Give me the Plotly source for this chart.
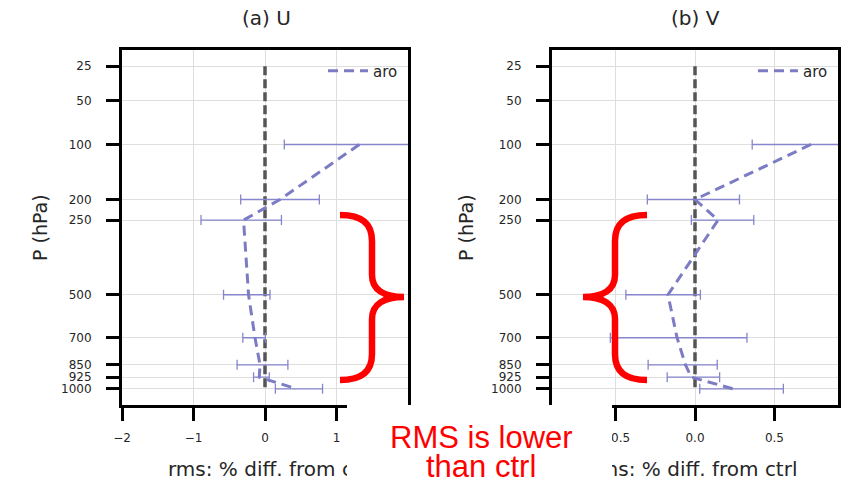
import plotly.graph_objects as go

# Pressure levels (hPa) and per-level RMS % difference from ctrl, with
# lower/upper spread of the error bars
levels = [100, 200, 250, 500, 700, 850, 925, 1000]

u_diff = [1.32, 0.21, -0.30, -0.23, -0.14, -0.07, -0.08, 0.44]
u_err_minus = [1.05, 0.55, 0.595, 0.35, 0.17, 0.32, 0.08, 0.295]
u_err_plus = [1.05, 0.55, 0.53, 0.30, 0.145, 0.39, 0.14, 0.365]

v_diff = [0.73, 0.00, 0.145, -0.17, -0.113, -0.06, -0.023, 0.24]
v_err_minus = [0.37, 0.30, 0.168, 0.265, 0.42, 0.235, 0.152, 0.21]
v_err_plus = [0.37, 0.28, 0.225, 0.204, 0.44, 0.20, 0.178, 0.316]

tick_levels = [25, 50, 100, 200, 250, 500, 700, 850, 925, 1000]
tick_labels = [str(p) for p in tick_levels]

x_ticks_u = [-2, -1, 0, 1]
x_ticks_v = [-0.5, 0.0, 0.5]

# the vertical axis is linear in p**(1/3)
def pscale(p):
    return p ** (1.0 / 3.0)

W, H = 846, 488
def px(x):
    return x / W
def py(y):
    return 1 - y / H

LINE_COLOR = "#7c7cc4"
ERR_COLOR = "#8686cc"
FONT = "DejaVu Sans"
TXT = "#262626"

fig = go.Figure()

panels = [
    ("x", "y", u_diff, u_err_minus, u_err_plus, "legend"),
    ("x2", "y2", v_diff, v_err_minus, v_err_plus, "legend2"),
]
for xa, ya, d, em, ep, lg in panels:
    # zero reference line
    fig.add_trace(go.Scatter(
        x=[0, 0], y=[pscale(tick_levels[0]), pscale(tick_levels[-1])],
        mode="lines", line=dict(color="#555555", width=3.5, dash="9px,4px"),
        showlegend=False, xaxis=xa, yaxis=ya, hoverinfo="skip"))
    fig.add_trace(go.Scatter(
        x=d, y=[pscale(p) for p in levels], mode="lines", name="aro",
        line=dict(color=LINE_COLOR, width=3, dash="10px,6px"),
        error_x=dict(type="data", symmetric=False, array=ep, arrayminus=em,
                     color=ERR_COLOR, thickness=1.3, width=5),
        xaxis=xa, yaxis=ya, legend=lg))

yr = [10.354, 2.57]
common_axis = dict(showline=True, linecolor="black", linewidth=3, mirror=True,
                   ticks="outside", ticklen=13, tickwidth=3, tickcolor="black",
                   showgrid=True, gridcolor="#dedede", gridwidth=1,
                   zeroline=False, tickfont=dict(family=FONT, size=12, color=TXT))

fig.update_layout(
    width=W, height=H, margin=dict(l=0, r=0, t=0, b=0, autoexpand=False),
    paper_bgcolor="white", plot_bgcolor="white",
    showlegend=True,
    xaxis=dict(domain=[px(122), px(408)], range=[-2, 2], tickvals=x_ticks_u,
               anchor="y", ticklabelstandoff=7, **common_axis),
    xaxis2=dict(domain=[px(552), px(838)], range=[-0.9, 0.9], tickvals=x_ticks_v,
                tickformat=".1f", anchor="y2", ticklabelstandoff=7, **common_axis),
    yaxis=dict(domain=[py(405), py(50)], range=yr, tickvals=[pscale(p) for p in tick_levels],
               ticktext=tick_labels, anchor="x", ticklabelstandoff=12, **common_axis),
    yaxis2=dict(domain=[py(405), py(50)], range=yr, tickvals=[pscale(p) for p in tick_levels],
                ticktext=tick_labels, anchor="x2", ticklabelstandoff=12, **common_axis),
    legend=dict(x=px(323), y=py(71), xanchor="left", yanchor="middle", itemwidth=40,
                bgcolor="rgba(0,0,0,0)", font=dict(family=FONT, size=15, color=TXT)),
    legend2=dict(x=px(753), y=py(71), xanchor="left", yanchor="middle", itemwidth=40,
                 bgcolor="rgba(0,0,0,0)", font=dict(family=FONT, size=15, color=TXT)),
)

annotations = []
# panel titles
for text, cx in [("(a) U", 266), ("(b) V", 695)]:
    annotations.append(dict(text=text, x=px(cx), y=py(18), xref="paper", yref="paper",
                            showarrow=False, xanchor="center", yanchor="middle",
                            font=dict(family=FONT, size=20, color=TXT)))
# axis titles
for cx in [271, 694]:
    annotations.append(dict(text="rms: % diff. from ctrl", x=px(cx), y=py(469),
                            xref="paper", yref="paper", showarrow=False,
                            xanchor="center", yanchor="middle",
                            font=dict(family=FONT, size=20, color=TXT)))
for cx in [40, 466]:
    annotations.append(dict(text="P (hPa)", x=px(cx), y=py(228), xref="paper", yref="paper",
                            showarrow=False, textangle=-90, xanchor="center", yanchor="middle",
                            font=dict(family=FONT, size=19, color=TXT)))
# white label box with the red note
annotations.append(dict(text="\u00a0", x=px(347), y=py(405), xref="paper", yref="paper",
                        showarrow=False, xanchor="left", yanchor="top",
                        width=265, height=90, bgcolor="white", borderpad=0, borderwidth=0))
for text, cy in [("RMS is lower", 437), ("than ctrl", 466)]:
    annotations.append(dict(text=text, x=px(481), y=py(cy), xref="paper", yref="paper",
                            showarrow=False, xanchor="center", yanchor="middle",
                            font=dict(family="Liberation Sans", size=31, color="red")))
fig.update_layout(annotations=annotations)

# curly braces marking the lower troposphere
def brace(x_end, x_mid, x_tip, y_top, y_tip, y_bot):
    s = 1 if x_tip > x_mid else -1
    P = lambda x, y: f"{px(x)},{py(y)}"
    pts = [
        "M" + P(x_end, y_top),
        "C" + " ".join([P(x_end + s * 20, y_top), P(x_mid, y_top + 7), P(x_mid, y_top + 26)]),
        "L" + P(x_mid, y_tip - 22),
        "C" + " ".join([P(x_mid, y_tip - 7), P(x_mid + s * 12, y_tip), P(x_tip, y_tip)]),
        "C" + " ".join([P(x_mid + s * 12, y_tip), P(x_mid, y_tip + 7), P(x_mid, y_tip + 22)]),
        "L" + P(x_mid, y_bot - 26),
        "C" + " ".join([P(x_mid, y_bot - 7), P(x_end + s * 20, y_bot), P(x_end, y_bot)]),
    ]
    return " ".join(pts)

for x_end, x_mid, x_tip in [(340, 372, 404), (647, 615, 583)]:
    fig.add_shape(type="path", xref="paper", yref="paper",
                  path=brace(x_end, x_mid, x_tip, 215, 297, 380),
                  line=dict(color="red", width=6.5), layer="above")

fig.write_html("out.html")
